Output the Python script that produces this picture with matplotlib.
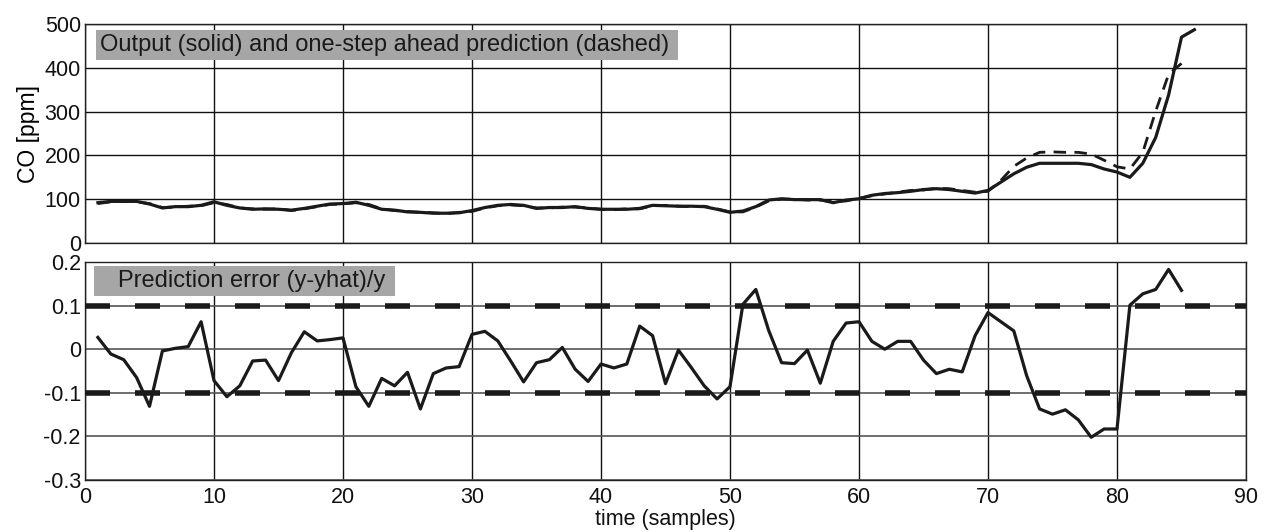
import matplotlib
matplotlib.use("Agg")
import matplotlib.pyplot as plt
from matplotlib.patches import Rectangle
import numpy as np

plt.rcParams['font.family'] = ['Liberation Sans', 'DejaVu Sans']

# --- data ---
output_co = [92, 95, 95, 95, 89, 80, 83, 83, 86, 94, 86, 80, 77, 78, 77, 75, 79, 84, 89, 90,
             93, 86, 77, 75, 71, 70, 68, 68, 69, 74, 81, 86, 88, 86, 79, 81, 81, 83, 79, 77,
             77, 77, 79, 86, 85, 84, 84, 83, 77, 70, 73, 83, 98, 101, 99, 99, 99, 92, 98, 101,
             109, 113, 115, 118, 122, 124, 122, 118, 114, 120, 139, 158, 173, 182, 182, 182, 182, 179, 169, 162,
             150, 182, 241, 338, 470, 487]
prediction_co = [90, 94, 95, 94, 90, 81, 82, 84, 85, 92, 88, 80, 78, 77, 78, 74, 78, 83, 88, 89,
                 92, 88, 78, 74, 72, 70, 69, 67, 70, 72, 80, 85, 87, 85, 80, 80, 82, 82, 80, 77,
                 76, 78, 78, 85, 86, 84, 83, 84, 78, 71, 71, 82, 96, 100, 100, 98, 98, 94, 96, 102,
                 108, 112, 116, 120, 121, 125, 124, 120, 116, 118, 143, 175, 194, 207, 208, 207, 207, 203, 189, 174,
                 169, 207, 301, 385, 410]
pred_error = [0.027, -0.011, -0.024, -0.065, -0.131, -0.004, 0.002, 0.006, 0.063, -0.072,
              -0.109, -0.084, -0.027, -0.025, -0.072, -0.008, 0.040, 0.019, 0.022, 0.026,
              -0.086, -0.131, -0.067, -0.084, -0.053, -0.137, -0.056, -0.043, -0.040, 0.034,
              0.041, 0.019, -0.027, -0.075, -0.031, -0.024, 0.004, -0.046, -0.074, -0.034,
              -0.043, -0.034, 0.053, 0.031, -0.079, -0.002, -0.042, -0.084, -0.114, -0.086,
              0.103, 0.137, 0.043, -0.031, -0.033, -0.002, -0.078, 0.018, 0.060, 0.063,
              0.018, 0.000, 0.018, 0.018, -0.025, -0.056, -0.046, -0.052, 0.031, 0.084,
              0.063, 0.042, -0.061, -0.137, -0.149, -0.139, -0.162, -0.202, -0.183, -0.183,
              0.101, 0.127, 0.137, 0.183, 0.135]
error_limits = [0.1, -0.1]

x_ticks = [0, 10, 20, 30, 40, 50, 60, 70, 80, 90]
top_yticks = [0, 100, 200, 300, 400, 500]
bot_yticks = [-0.3, -0.2, -0.1, 0, 0.1, 0.2]
bot_yticklabels = ['-0.3', '-0.2', '-0.1', '0', '0.1', '0.2']

top_title = "Output (solid) and one-step ahead prediction (dashed)"
bot_title = "Prediction error (y-yhat)/y"

# --- figure ---
fig = plt.figure(figsize=(12.74, 5.32), dpi=100)
W, H = 1274, 532
def ax_rect(l, t, r, b):
    return [l / W, 1 - b / H, (r - l) / W, (b - t) / H]

ax1 = fig.add_axes(ax_rect(85, 24, 1246, 243))
ax2 = fig.add_axes(ax_rect(85, 262, 1246, 480))

lc = '#1a1a1a'
t_out = np.arange(1, len(output_co) + 1)
t_pred = np.arange(1, len(prediction_co) + 1)
t_err = np.arange(1, len(pred_error) + 1)

ax1.plot(t_pred, prediction_co, color=lc, lw=2.0, dashes=(4.5, 3), zorder=3)
ax1.plot(t_out, output_co, color=lc, lw=2.3, zorder=4)
ax1.set_xlim(0, 90)
ax1.set_ylim(0, 500)
ax1.set_xticks(x_ticks)
ax1.set_yticks(top_yticks)
ax1.set_xticklabels([])
ax1.grid(True, color='#111111', lw=1.0)
ax1.set_ylabel('CO [ppm]', fontsize=16.5, labelpad=3)

for yv in error_limits:
    ax2.axhline(yv, color=lc, lw=4.0, dashes=(4.5, 4.5), zorder=3)
ax2.plot(t_err, pred_error, color=lc, lw=2.3, zorder=4)
ax2.set_xlim(0, 90)
ax2.set_ylim(-0.3, 0.2)
ax2.set_xticks(x_ticks)
ax2.set_yticks(bot_yticks)
ax2.set_yticklabels(bot_yticklabels)
ax2.xaxis.grid(True, color='#111111', lw=1.0)
ax2.yaxis.grid(True, color='#555555', lw=1.2)

for ax in (ax1, ax2):
    ax.set_axisbelow(True)
    ax.tick_params(length=0, labelsize=15.5, pad=3, colors='#111111')
    for s in ax.spines.values():
        s.set_color('#222222')
        s.set_linewidth(1.0)

ax2.tick_params(axis='x', pad=5)

# x label placed at the bottom edge of the figure, below tick labels
fig.text((85 + 1246) / 2 / W, 1.5 / H, 'time (samples)', fontsize=15.5,
         ha='center', va='bottom', color='#111111')

AW, AH1, AH2 = 1161, 219, 218
gray = '#a6a6a6'
ax1.add_patch(Rectangle((11 / AW, 1 - 36 / AH1), 582 / AW, 30.5 / AH1, transform=ax1.transAxes,
                        facecolor=gray, edgecolor='none', zorder=5))
ax1.text(15 / AW, 1 - 21 / AH1, top_title, transform=ax1.transAxes, fontsize=17,
         ha='left', va='center', color='#1a1a1a', zorder=6)
ax2.add_patch(Rectangle((9 / AW, 1 - 34 / AH2), 301 / AW, 30 / AH2, transform=ax2.transAxes,
                        facecolor=gray, edgecolor='none', zorder=5))
ax2.text(33 / AW, 1 - 19 / AH2, bot_title, transform=ax2.transAxes, fontsize=17,
         ha='left', va='center', color='#1a1a1a', zorder=6)

fig.savefig('out.png', dpi=100)
